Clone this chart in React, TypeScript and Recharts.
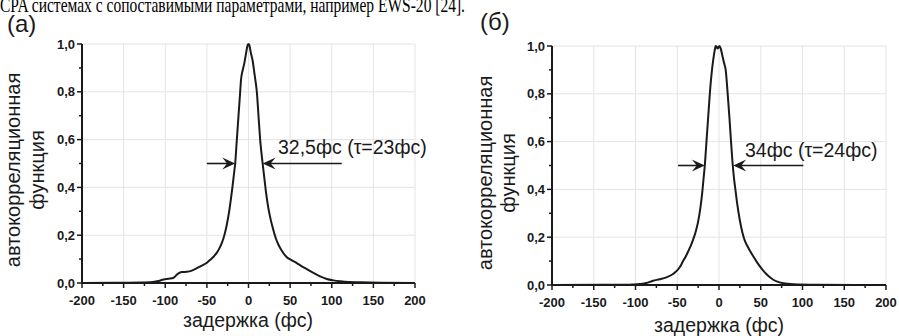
import { LineChart, Line, XAxis, YAxis, ReferenceLine } from "recharts";

// задержка (фс) и значения автокорреляционной функции, панель (а)
const delayA = [
  -200, -160, -130, -115, -108, -102, -96, -90, -85, -80, -74, -68, -62, -56, -50,
  -46, -42, -38, -35, -32, -29, -26, -23, -21, -19, -17.5, -16, -14, -12, -10, -9,
  -7, -5, -3, -1, 0, 1, 3, 5, 7, 9, 10, 12, 14, 17, 19, 21, 24, 27, 30, 33, 36, 40,
  46, 52, 58, 64, 70, 78, 86, 94, 102, 110, 120, 135, 160, 200,
];
const acfA = [
  0, 0.001, 0.002, 0.004, 0.008, 0.015, 0.018, 0.022, 0.038, 0.046, 0.047, 0.052,
  0.062, 0.073, 0.085, 0.097, 0.11, 0.127, 0.145, 0.168, 0.2, 0.245, 0.305, 0.355,
  0.41, 0.455, 0.5, 0.6, 0.7, 0.8, 0.85, 0.89, 0.92, 0.96, 0.995, 1.0, 0.995, 0.96,
  0.93, 0.88, 0.83, 0.8, 0.7, 0.6, 0.5, 0.44, 0.38, 0.31, 0.26, 0.22, 0.185, 0.16,
  0.135, 0.108, 0.095, 0.083, 0.07, 0.058, 0.042, 0.028, 0.017, 0.011, 0.007,
  0.004, 0.003, 0.001, 0,
];

// панель (б)
const delayB = [
  -200, -140, -110, -103, -95, -87, -79, -71, -63, -55, -47, -43, -40, -37, -34,
  -31, -28, -25, -22, -20, -18.5, -17, -15, -13, -11, -9, -7, -5, -4, -3, -2, -1,
  0.5, 2, 4, 6, 8, 10.4, 12.5, 14.4, 16.5, 18, 20, 22, 25, 28, 31, 34, 37, 41, 45,
  49, 53, 57, 61, 65, 69, 77, 89, 117, 200,
];
const acfB = [
  0, 0.001, 0.001, 0.002, 0.004, 0.008, 0.018, 0.024, 0.032, 0.046, 0.074, 0.1,
  0.118, 0.14, 0.163, 0.19, 0.222, 0.265, 0.33, 0.39, 0.445, 0.5, 0.6, 0.7, 0.8,
  0.88, 0.94, 0.985, 1.0, 0.998, 0.99, 0.992, 1.0, 0.99, 0.96, 0.93, 0.9, 0.8, 0.7,
  0.6, 0.5, 0.445, 0.39, 0.335, 0.27, 0.22, 0.185, 0.163, 0.143, 0.12, 0.098,
  0.078, 0.06, 0.045, 0.032, 0.022, 0.015, 0.007, 0.003, 0.001, 0,
];

const xTicks = [-200, -175, -150, -125, -100, -75, -50, -25, 0, 25, 50, 75, 100, 125, 150, 175, 200];
const yTicks = [0, 0.1, 0.2, 0.3, 0.4, 0.5, 0.6, 0.7, 0.8, 0.9, 1.0];
const xGrid = [-150, -100, -50, 0, 50, 100, 150, 200];
const yGrid = [0.2, 0.4, 0.6, 0.8, 1.0];

// стрелки полуширины: [откуда, куда (острие)]
const arrowsA = [[-50, -16], [112, 17]];
const arrowsB = [[-49, -17], [101, 17]];

const SANS = "'Liberation Sans', Arial, Helvetica, sans-serif";
const INK = "#1a1a1a";

const XTick = ({ x, y, payload }: any) => {
  const v = payload.value;
  const major = v % 50 === 0;
  return (
    <g>
      <line x1={x} y1={y} x2={x} y2={y + (major ? 5 : 3)} stroke={INK} strokeWidth={1.5} />
      {major && (
        <text x={x} y={y + 22} textAnchor="middle" fontFamily={SANS} fontWeight="bold" fontSize={13} fill={INK}>
          {v}
        </text>
      )}
    </g>
  );
};

const YTick = ({ x, y, payload }: any) => {
  const v = payload.value;
  const major = Math.round(v * 10) % 2 === 0;
  return (
    <g>
      <line x1={x} y1={y} x2={x - (major ? 5 : 3)} y2={y} stroke={INK} strokeWidth={1.5} />
      {major && (
        <text x={x - 7} y={y + 4.6} textAnchor="end" fontFamily={SANS} fontWeight="bold" fontSize={13} fill={INK}>
          {v.toFixed(1).replace(".", ",")}
        </text>
      )}
    </g>
  );
};

const Arrow = (props: any) => {
  const { x1, y1, x2, y2 } = props;
  const d = Math.sign(x2 - x1);
  return (
    <g>
      <line x1={x1} y1={y1} x2={x2 - d * 6} y2={y2} stroke={INK} strokeWidth={1.6} />
      <path
        d={`M${x2},${y2} L${x2 - d * 13},${y2 - 6} L${x2 - d * 8},${y2} L${x2 - d * 13},${y2 + 6} Z`}
        fill={INK}
      />
    </g>
  );
};

function Panel({ t, v, arrows, width, margin }: any) {
  const data = t.map((tt: number, i: number) => ({ t: tt, v: v[i] }));
  return (
    <LineChart width={width} height={336} data={data} margin={margin}>
      {xGrid.map((g) => (
        <ReferenceLine key={"gx" + g} x={g} stroke="#e4e4e4" strokeWidth={1} />
      ))}
      {yGrid.map((g) => (
        <ReferenceLine key={"gy" + g} y={g} stroke="#e4e4e4" strokeWidth={1} />
      ))}
      <XAxis
        dataKey="t"
        type="number"
        domain={[-200, 200]}
        ticks={xTicks}
        interval={0}
        height={30}
        tickSize={0}
        tickMargin={0}
        tickLine={false}
        tick={<XTick />}
        axisLine={{ stroke: INK, strokeWidth: 2 }}
      />
      <YAxis
        type="number"
        domain={[0, 1]}
        ticks={yTicks}
        interval={0}
        width={42}
        tickSize={0}
        tickMargin={0}
        tickLine={false}
        tick={<YTick />}
        axisLine={{ stroke: INK, strokeWidth: 2 }}
      />
      <Line type="monotone" dataKey="v" stroke={INK} strokeWidth={2} dot={false} isAnimationActive={false} />
      {arrows.map((a: number[], i: number) => (
        <ReferenceLine
          key={"ar" + i}
          segment={[{ x: a[0], y: 0.5 }, { x: a[1], y: 0.5 }]}
          shape={Arrow}
          ifOverflow="visible"
        />
      ))}
    </LineChart>
  );
}

export default function App() {
  const txt = { fontFamily: SANS, fill: INK };
  return (
    <div style={{ position: "absolute", left: 0, top: 0, width: 899, height: 336, overflow: "hidden", background: "#fff" }}>
      <div style={{ position: "absolute", left: 0, top: 0 }}>
        <Panel t={delayA} v={acfA} arrows={arrowsA} width={440} margin={{ top: 44, right: 25, left: 40, bottom: 23 }} />
      </div>
      <div style={{ position: "absolute", left: 440, top: 0 }}>
        <Panel t={delayB} v={acfB} arrows={arrowsB} width={459} margin={{ top: 46, right: 13, left: 70, bottom: 21 }} />
      </div>
      <svg width={899} height={336} style={{ position: "absolute", left: 0, top: 0, pointerEvents: "none" }}>
        <text x={0} y={12} fontFamily="'Liberation Serif', 'Times New Roman', serif" fontSize={22} fill="#000" textLength={465} lengthAdjust="spacingAndGlyphs">
          CPA системах с сопоставимыми параметрами, например EWS-20 [24].
        </text>
        <text x={7} y={32} fontSize={24} {...txt}>(а)</text>
        <text x={480} y={30} fontSize={24} {...txt}>(б)</text>

        <g transform="translate(13,170) rotate(-90)">
          <text textAnchor="middle" dominantBaseline="central" fontSize={20} {...txt}>автокорреляционная</text>
        </g>
        <g transform="translate(37,170) rotate(-90)">
          <text textAnchor="middle" dominantBaseline="central" fontSize={20} {...txt}>функция</text>
        </g>
        <g transform="translate(485,173) rotate(-90)">
          <text textAnchor="middle" dominantBaseline="central" fontSize={20} {...txt}>автокорреляционная</text>
        </g>
        <g transform="translate(508,173) rotate(-90)">
          <text textAnchor="middle" dominantBaseline="central" fontSize={20} {...txt}>функция</text>
        </g>

        <text x={248} y={320} textAnchor="middle" dominantBaseline="central" fontSize={19.5} {...txt}>задержка (фс)</text>
        <text x={719} y={325} textAnchor="middle" dominantBaseline="central" fontSize={19.5} {...txt}>задержка (фс)</text>

        <text x={278} y={147} dominantBaseline="central" fontSize={19.5} {...txt}>32,5фс (τ=23фс)</text>
        <text x={745} y={150} dominantBaseline="central" fontSize={19.5} {...txt}>34фс (τ=24фс)</text>
      </svg>
    </div>
  );
}
